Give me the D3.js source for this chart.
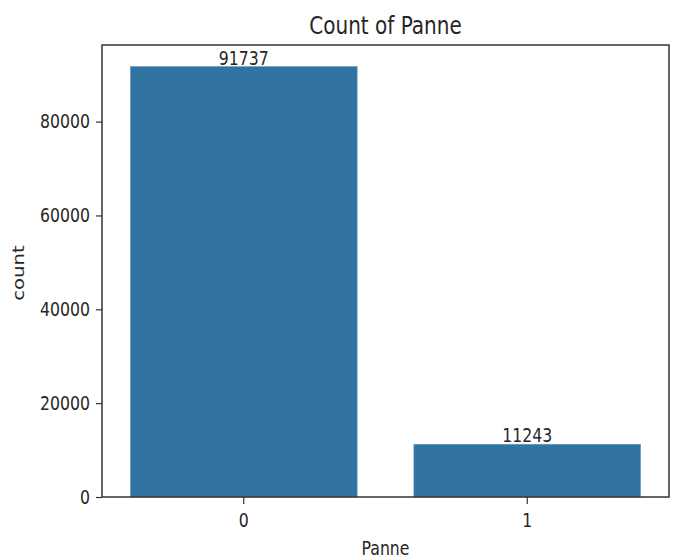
<!DOCTYPE html>
<html>
<head>
<meta charset="utf-8">
<script src="https://cdn.jsdelivr.net/npm/d3@7"></script>
<style>
  html, body { margin: 0; padding: 0; background: #fff; }
  svg { display: block; }
  text { font-family: "DejaVu Sans", sans-serif; fill: #262626; }
</style>
</head>
<body>
<svg id="chart" width="674" height="558"></svg>
<script>
const categories = ["0", "1"];
const counts = [91737, 11243];
const yTicks = [0, 20000, 40000, 60000, 80000];
const title = "Count of Panne";
const xLabel = "Panne";
const yLabel = "count";

const W = 674, H = 558;
const margin = { left: 102, right: 5, top: 45, bottom: 61 };
const SY = 1.25; // vertical stretch of the reference text
const svg = d3.select("#chart");

const x = d3.scaleBand().domain(categories)
  .range([margin.left, W - margin.right]).paddingInner(0.2).paddingOuter(0.1);
const y = d3.scaleLinear().domain([0, d3.max(counts) * 1.05])
  .range([H - margin.bottom, margin.top]);

// bars
svg.selectAll("rect.bar").data(categories).join("rect")
  .attr("class", "bar")
  .attr("x", d => x(d))
  .attr("width", x.bandwidth())
  .attr("y", (d, i) => y(counts[i]))
  .attr("height", (d, i) => y(0) - y(counts[i]))
  .attr("fill", "#3274a1")
  .attr("stroke", "#6a9cc4").attr("stroke-width", 0.6);

// bar labels
svg.selectAll("text.blabel").data(categories).join("text")
  .attr("class", "blabel")
  .attr("text-anchor", "middle")
  .style("font-size", "15.7px")
  .attr("transform", (d, i) => `translate(${x(d) + x.bandwidth() / 2},${y(counts[i]) - 2}) scale(1,${SY})`)
  .text((d, i) => counts[i]);

// y axis
const gy = svg.append("g").attr("transform", `translate(${margin.left},0)`)
  .call(d3.axisLeft(y).tickValues(yTicks).tickSize(6).tickPadding(6).tickFormat(d3.format("d")));
gy.select(".domain").remove();
gy.selectAll(".tick line").attr("stroke", "#333").attr("stroke-width", 1.2);
gy.selectAll(".tick text").style("font-size", "15.7px").style("font-family", "DejaVu Sans")
  .attr("fill", "#262626").attr("transform", `scale(1,${SY})`);

// x axis
const gx = svg.append("g").attr("transform", `translate(0,${H - margin.bottom})`)
  .call(d3.axisBottom(x).tickSize(7).tickPadding(6));
gx.select(".domain").remove();
gx.selectAll(".tick line").attr("stroke", "#333").attr("stroke-width", 1.2);
gx.selectAll(".tick text").style("font-size", "15.7px").style("font-family", "DejaVu Sans")
  .attr("fill", "#262626").attr("y", 0).attr("dy", 0)
  .attr("transform", `translate(0,30) scale(1,${SY})`);

// frame
svg.append("rect")
  .attr("x", margin.left).attr("y", margin.top)
  .attr("width", W - margin.right - margin.left)
  .attr("height", H - margin.bottom - margin.top)
  .attr("fill", "none").attr("stroke", "#333").attr("stroke-width", 1.5);

// title
svg.append("text").attr("text-anchor", "middle").style("font-size", "20px")
  .attr("transform", `translate(${(margin.left + W - margin.right) / 2},34) scale(1,${SY})`)
  .text(title);

// x label
svg.append("text").attr("text-anchor", "middle").style("font-size", "15.7px")
  .attr("transform", `translate(${(margin.left + W - margin.right) / 2},554.5) scale(1,${SY})`)
  .text(xLabel);

// y label
svg.append("text").attr("text-anchor", "middle").style("font-size", "15.7px")
  .attr("transform", `translate(24,${(margin.top + H - margin.bottom) / 2 + 2}) scale(1,${SY}) rotate(-90)`)
  .text(yLabel);
</script>
</body>
</html>
